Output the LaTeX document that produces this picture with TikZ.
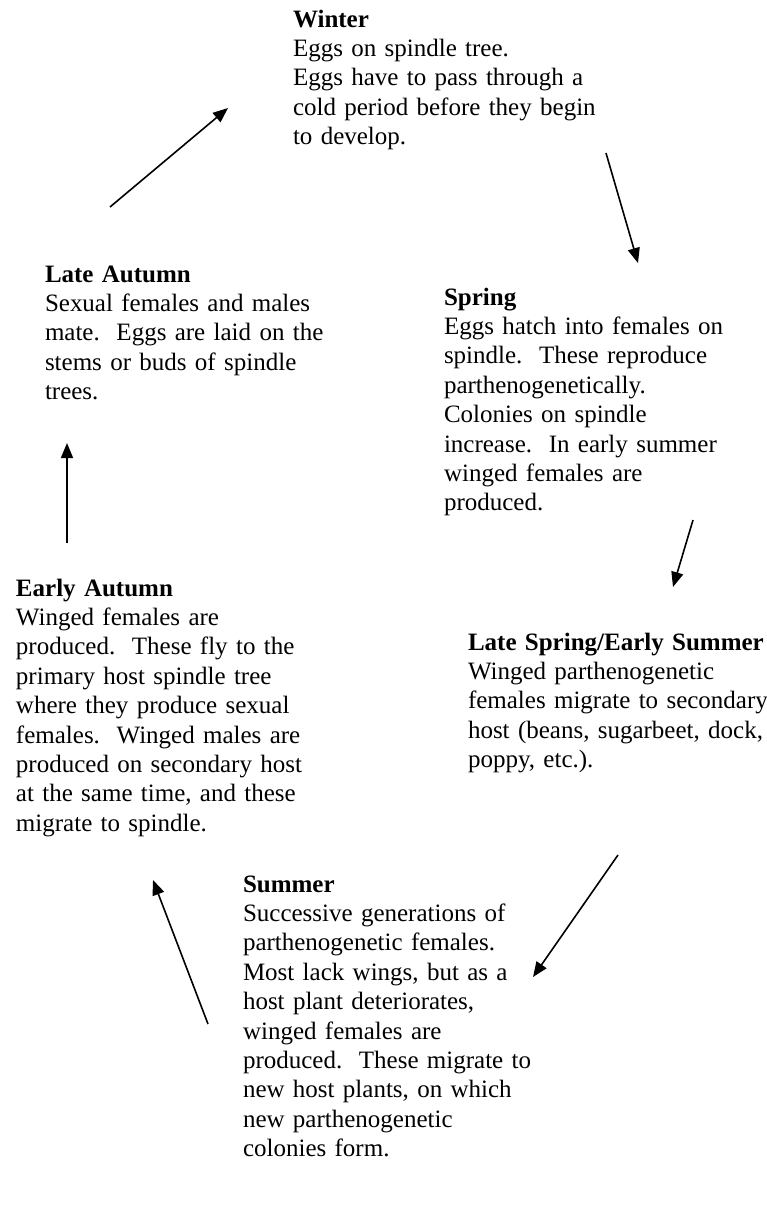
\documentclass[tikz,border=0pt]{standalone}
\usepackage{fontspec}
\setmainfont{Liberation Serif}
\usetikzlibrary{arrows.meta}
\begin{document}
\begin{tikzpicture}[x=1pt,y=-1pt,
  season/.style={anchor=base west,inner sep=0pt,outer sep=0pt,
    text width=320pt,align=left,
    font=\fontsize{25}{29.4}\selectfont},
  cycle/.style={line width=1.6pt,-{Triangle[length=15pt,width=12pt]}}]
\useasboundingbox (0,0) rectangle (766,1205);
\fill[white] (0,0) rectangle (766,1205);

% season descriptions
\node[season] (winter) at (293,27) {\textbf{Winter}\\
Eggs on spindle tree.\\
Eggs have to pass through a\\
cold period before they begin\\
to develop.};

\node[season] (lateautumn) at (45,282) {\textbf{Late Autumn}\\
Sexual females and males\\
mate.\ \ Eggs are laid on the\\
stems or buds of spindle\\
trees.};

\node[season] (spring) at (444,305) {\textbf{Spring}\\
Eggs hatch into females on\\
spindle.\ \ These reproduce\\
parthenogenetically.\\
Colonies on spindle\\
increase.\ \ In early summer\\
winged females are\\
produced.};

\node[season] (earlyautumn) at (16,596) {\textbf{Early Autumn}\\
Winged females are\\
produced.\ \ These fly to the\\
primary host spindle tree\\
where they produce sexual\\
females.\ \ Winged males are\\
produced on secondary host\\
at the same time, and these\\
migrate to spindle.};

\node[season] (latespring) at (468,650) {\textbf{Late Spring/Early Summer}\\
Winged parthenogenetic\\
females migrate to secondary\\
host (beans, sugarbeet, dock,\\
poppy, etc.).};

\node[season] (summer) at (243,892) {\textbf{Summer}\\
Successive generations of\\
parthenogenetic females.\\
Most lack wings, but as a\\
host plant deteriorates,\\
winged females are\\
produced.\ \ These migrate to\\
new host plants, on which\\
new parthenogenetic\\
colonies form.};

% arrow end points
\coordinate (a1s) at (110,207);  \coordinate (a1e) at (228,108);
\coordinate (a2s) at (606,153);  \coordinate (a2e) at (638,263);
\coordinate (a3s) at (67,543);   \coordinate (a3e) at (67,443);
\coordinate (a4s) at (693,520);  \coordinate (a4e) at (673,587);
\coordinate (a5s) at (618,855);  \coordinate (a5e) at (533,977);
\coordinate (a6s) at (208,1024); \coordinate (a6e) at (153,880);

% the yearly cycle
\draw[cycle] (a1s) -- (a1e);
\draw[cycle] (a2s) -- (a2e);
\draw[cycle] (a3s) -- (a3e);
\draw[cycle] (a4s) -- (a4e);
\draw[cycle] (a5s) -- (a5e);
\draw[cycle] (a6s) -- (a6e);
\end{tikzpicture}
\end{document}
